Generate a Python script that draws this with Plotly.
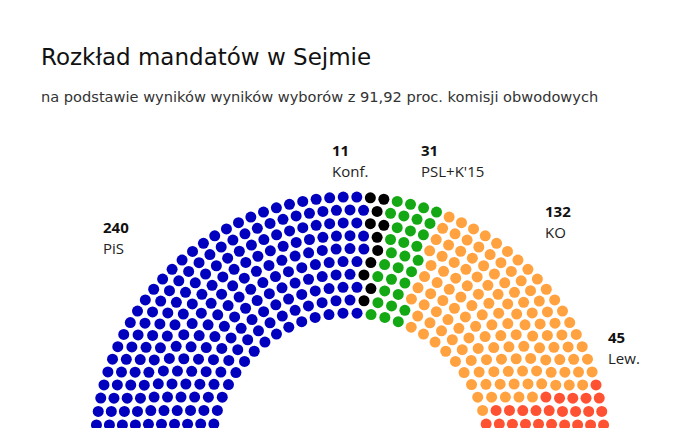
import math
import plotly.graph_objects as go

# ---- data ----
parties = ["PiS", "Konf.", "PSL+K'15", "KO", "Lew."]
seats = [240, 11, 31, 132, 45]

# ---- style ----
colors = ["#0000BE", "#000000", "#14A914", "#FFA23F", "#FF5233"]
W, H = 679, 428
CX, CY, R_OUT = 350.0, 452.0, 255.0      # hemicycle centre / outer radius in px
INNER_RATIO = 139.0 / 255.0
N_ROWS = 10
FONT = "Open Sans"
TITLE_FONT = "DejaVu Sans"

# ---- hemicycle layout (radii in units of outer radius) ----
total = sum(seats)
radii = [INNER_RATIO + i * (1 - INNER_RATIO) / (N_ROWS - 1) for i in range(N_ROWS)]
raw = [total * r / sum(radii) for r in radii]
counts = [int(math.floor(v)) for v in raw]
rem = total - sum(counts)
order = sorted(range(N_ROWS), key=lambda i: raw[i] - counts[i], reverse=True)
for i in order[:rem]:
    counts[i] += 1

pos = []
for r, n in zip(radii, counts):
    for j in range(n):
        th = math.pi - math.pi * j / (n - 1)
        pos.append((th, r))
pos.sort(key=lambda p: (-p[0], -p[1]))

fig = go.Figure()
k = 0
for name, n, col in zip(parties, seats, colors):
    chunk = pos[k:k + n]
    k += n
    fig.add_trace(go.Scatter(
        x=[r * math.cos(t) for t, r in chunk],
        y=[r * math.sin(t) for t, r in chunk],
        mode="markers", name=name,
        marker=dict(size=11, color=col, line=dict(width=0)),
        hoverinfo="name",
    ))

# ---- labels (pixel anchor positions) ----
label_pos = {
    "PiS": (102, 227),
    "Konf.": (331, 150),
    "PSL+K'15": (420, 150),
    "KO": (544, 211),
    "Lew.": (607, 337),
}

def px(x):
    return x / W

def py(y):
    return 1 - y / H

ann = [
    dict(text="Rozkład mandatów w Sejmie", x=px(39), y=py(57), xref="paper", yref="paper",
         xanchor="left", yanchor="middle", showarrow=False,
         font=dict(family=TITLE_FONT, size=23, color="#111111")),
    dict(text="na podstawie wyników wyników wyborów z 91,92 proc. komisji obwodowych",
         x=px(39), y=py(96), xref="paper", yref="paper",
         xanchor="left", yanchor="middle", showarrow=False,
         font=dict(family=TITLE_FONT, size=14.6, color="#333333")),
]
for name, n in zip(parties, seats):
    lx, ly = label_pos[name]
    ann.append(dict(text="<b>%d</b>" % n, x=px(lx - 1), y=py(ly), xref="paper", yref="paper",
                    xanchor="left", yanchor="middle", showarrow=False,
                    font=dict(family=FONT, size=15, color="#111111")))
    ann.append(dict(text=name, x=px(lx - 1), y=py(ly + 21), xref="paper", yref="paper",
                    xanchor="left", yanchor="middle", showarrow=False,
                    font=dict(family=FONT, size=15, color="#222222")))

fig.update_layout(
    width=W, height=H, margin=dict(l=0, r=0, t=0, b=0),
    paper_bgcolor="white", plot_bgcolor="white", showlegend=False,
    xaxis=dict(range=[(0 - CX) / R_OUT, (W - CX) / R_OUT], visible=False, fixedrange=True),
    yaxis=dict(range=[(CY - H) / R_OUT, CY / R_OUT], visible=False, fixedrange=True),
    annotations=ann,
)
fig.write_html("out.html", config={"displayModeBar": False})
